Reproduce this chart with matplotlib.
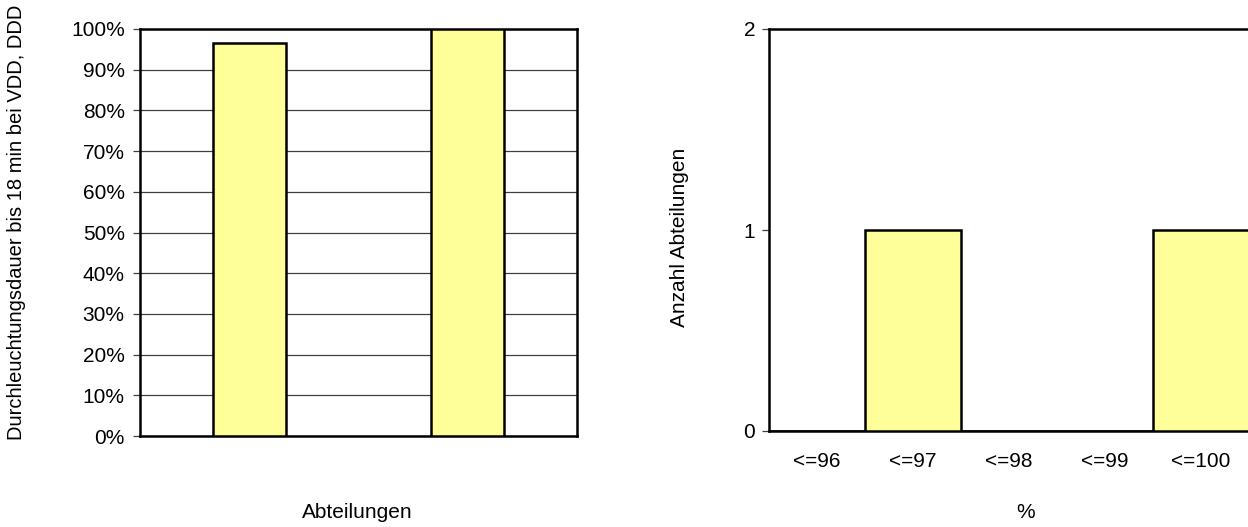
import matplotlib
matplotlib.use("Agg")
import matplotlib.pyplot as plt
from matplotlib.ticker import FuncFormatter

plt.rcParams['font.family'] = ['Liberation Sans', 'DejaVu Sans']

# Data
departments = ["A", "B"]
share_values = [0.965, 1.0]
y_ticks_left = [i / 10 for i in range(11)]

bins = ["<=96", "<=97", "<=98", "<=99", "<=100"]
counts = [0, 1, 0, 0, 1]
y_ticks_right = [0, 1, 2]

bar_color = "#FFFF99"
FS = 15
W, H = 1248, 527
fig = plt.figure(figsize=(W / 100, H / 100), dpi=100)

def ax_rect(l, r, t, b):
    return [l / W, 1 - b / H, (r - l) / W, (b - t) / H]

def px(x, y):
    return x / W, 1 - y / H

# Left chart
ax1 = fig.add_axes(ax_rect(140, 577, 29, 436))
x1 = range(len(departments))
ax1.bar(x1, share_values, width=0.334, color=bar_color, edgecolor="black",
        linewidth=1.8, zorder=3)
ax1.set_xlim(-0.5, 1.5)
ax1.set_ylim(0, 1)
ax1.set_yticks(y_ticks_left)
ax1.yaxis.set_major_formatter(FuncFormatter(lambda v, p: f"{v*100:.0f}%"))
ax1.set_xticks([])
ax1.grid(axis="y", color="#404040", linewidth=0.9, zorder=1)
for s in ax1.spines.values():
    s.set_linewidth(1.8)
    s.set_color("black")
ax1.tick_params(axis="y", length=5, width=0.9, color="#404040", labelsize=FS, pad=6)
fig.text(*px(357, 513), "Abteilungen", fontsize=FS, ha="center", va="center")
fig.text(*px(17, 222), "Durchleuchtungsdauer bis 18 min bei VDD, DDD", fontsize=14.5,
         ha="center", va="center", rotation=90)

# Right chart
ax2 = fig.add_axes(ax_rect(769, 1249, 29, 431))
x2 = range(len(bins))
ax2.bar(x2, counts, width=1.0, color=bar_color, edgecolor="black",
        linewidth=1.8, zorder=3)
ax2.set_xlim(-0.5, 4.5)
ax2.set_ylim(0, 2)
ax2.set_yticks(y_ticks_right)
ax2.set_xticks(list(x2))
ax2.set_xticklabels(bins)
ax2.spines["right"].set_visible(False)
for s in ["left", "top", "bottom"]:
    ax2.spines[s].set_linewidth(1.8)
    ax2.spines[s].set_color("black")
ax2.tick_params(axis="y", length=5, width=0.9, color="#404040", labelsize=FS, pad=5)
ax2.tick_params(axis="x", length=0, labelsize=FS, pad=15)
fig.text(*px(1026, 513), "%", fontsize=FS, ha="center", va="center")
fig.text(*px(680, 237), "Anzahl Abteilungen", fontsize=FS, ha="center", va="center",
         rotation=90)

fig.savefig("out.png", dpi=100)
